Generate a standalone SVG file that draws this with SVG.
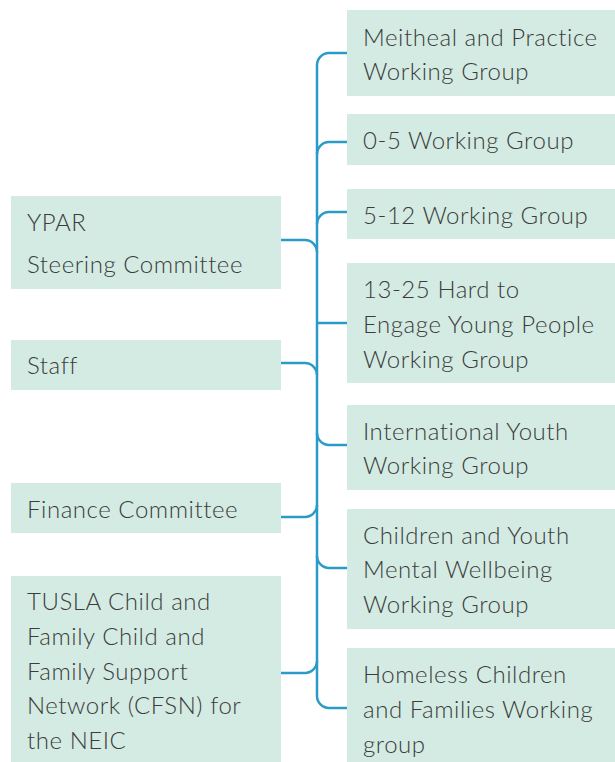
<svg xmlns="http://www.w3.org/2000/svg" width="615" height="762" viewBox="0 0 615 762">
<style>
.box{fill:#d3ebe2}
.t{font-family:Lato,"Open Sans","Liberation Sans",sans-serif;font-size:24px;font-weight:300;letter-spacing:0.55px;fill:#3c3c3c}
.c{fill:none;stroke:#2a9bc8;stroke-width:2.5}
</style>
<rect width="615" height="762" fill="#ffffff"/>
<g id="connectors" class="c">
<path d="M347,53 H329 A12,12 0 0 0 317,65 V696 A12,12 0 0 0 329,708 H347"/>
<path d="M317,154 A12,12 0 0 1 329,142 H347"/>
<path d="M317,224 A12,12 0 0 1 329,212 H347"/>
<path d="M317,323 H347"/>
<path d="M317,433 A12,12 0 0 0 329,445 H347"/>
<path d="M317,556 A12,12 0 0 0 329,568 H347"/>
<path d="M281,240 H305 A12,12 0 0 1 317,252"/>
<path d="M281,363 H305 A12,12 0 0 1 317,375"/>
<path d="M281,517 H305 A12,12 0 0 0 317,505"/>
<path d="M281,673 H305 A12,12 0 0 0 317,661"/>
</g>
<g id="ypar"><rect class="box" x="11" y="196" width="270" height="93"/><text class="t" x="27" y="231">YPAR</text><text class="t" x="27" y="273">Steering Committee</text></g>
<g id="staff"><rect class="box" x="11" y="340" width="270" height="50"/><text class="t" x="27" y="374">Staff</text></g>
<g id="finance"><rect class="box" x="11" y="483" width="270" height="50"/><text class="t" x="27" y="518">Finance Committee</text></g>
<g id="tusla"><rect class="box" x="11" y="576" width="270" height="186"/><text class="t" x="27" y="610">TUSLA Child and</text><text class="t" x="27" y="645">Family Child and</text><text class="t" x="27" y="680">Family Support</text><text class="t" x="27" y="714">Network (CFSN) for</text><text class="t" x="27" y="749">the NEIC</text></g>
<g id="meitheal"><rect class="box" x="347" y="10" width="268" height="86"/><text class="t" x="363" y="46">Meitheal and Practice</text><text class="t" x="363" y="80">Working Group</text></g>
<g id="wg05"><rect class="box" x="347" y="114" width="268" height="51"/><text class="t" x="363" y="149">0-5 Working Group</text></g>
<g id="wg512"><rect class="box" x="347" y="189" width="268" height="50"/><text class="t" x="363" y="224">5-12 Working Group</text></g>
<g id="wg1325"><rect class="box" x="347" y="263" width="268" height="120"/><text class="t" x="363" y="298">13-25 Hard to</text><text class="t" x="363" y="333">Engage Young People</text><text class="t" x="363" y="368">Working Group</text></g>
<g id="international"><rect class="box" x="347" y="405" width="268" height="85"/><text class="t" x="363" y="440">International Youth</text><text class="t" x="363" y="474">Working Group</text></g>
<g id="mental"><rect class="box" x="347" y="509" width="268" height="120"/><text class="t" x="363" y="544">Children and Youth</text><text class="t" x="363" y="578">Mental Wellbeing</text><text class="t" x="363" y="613">Working Group</text></g>
<g id="homeless"><rect class="box" x="347" y="648" width="268" height="114"/><text class="t" x="363" y="683">Homeless Children</text><text class="t" x="363" y="718">and Families Working</text><text class="t" x="363" y="753">group</text></g>
</svg>
